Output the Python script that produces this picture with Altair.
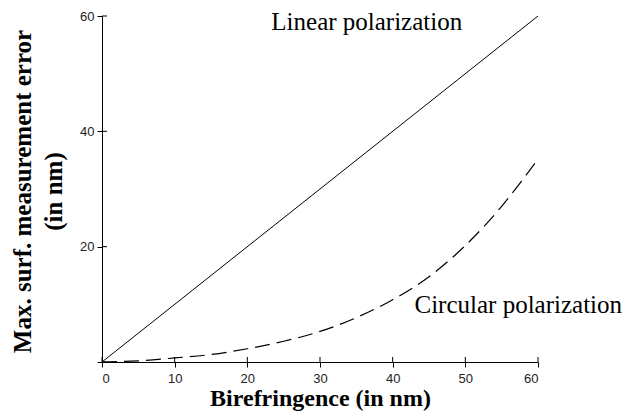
import altair as alt
import pandas as pd

# Data
lin_x = [0, 60]
lin_y = [0, 60]
circ_x = [0, 5, 10, 15, 20, 25, 30, 35, 40, 45, 50, 55, 60]
circ_y = [0, 0.2, 0.7, 1.3, 2.3, 3.6, 5.3, 7.7, 10.8, 14.8, 20.2, 27.0, 35.2]
x_ticks = [0, 10, 20, 30, 40, 50, 60]
y_ticks = [0, 20, 40, 60]
label_text = ["Linear polarization", "Circular polarization"]
label_x = [23.3, 43.0]
label_y = [57.5, 8.5]

lin_df = pd.DataFrame({"x": lin_x, "y": lin_y})
circ_df = pd.DataFrame({"x": circ_x, "y": circ_y})
xtick_df = pd.DataFrame({"t": x_ticks})
ytick_df = pd.DataFrame({"t": y_ticks})
lab_df = pd.DataFrame({"text": label_text, "x": label_x, "y": label_y})

xs = alt.Scale(domain=[0, 60], nice=False, zero=False)
ys = alt.Scale(domain=[0, 60], nice=False, zero=False)

LBL_FONT = "Liberation Sans Narrow, Liberation Sans, sans-serif"
TITLE_FONT = "Liberation Serif"

x_axis = alt.Axis(
    values=x_ticks, title="Birefringence (in nm)", grid=False,
    domainColor="black", domainWidth=1, tickColor="black", tickSize=5, tickWidth=1,
    labelFont=LBL_FONT, labelFontSize=13, labelColor="#222", labelPadding=5,
    titleFont=TITLE_FONT, titleFontSize=24, titleFontWeight="bold", titleColor="black",
    titleBaseline="alphabetic", titleY=43,
)
y_axis = alt.Axis(
    values=y_ticks, title=["Max. surf. measurement error", "(in nm)"], grid=False,
    labelExpr="datum.value == 0 ? '' : datum.label",
    domainColor="black", domainWidth=1, tickColor="black", tickSize=5, tickWidth=1,
    labelFont=LBL_FONT, labelFontSize=13, labelColor="#222", labelPadding=3,
    titleFont=TITLE_FONT, titleFontSize=25, titleFontWeight="bold", titleColor="black",
    titleBaseline="alphabetic", titleX=-72, titleY=175, titleAngle=270,
    titleAlign="center", titleLineHeight=31,
)

lin = alt.Chart(lin_df).mark_line(color="black", strokeWidth=1).encode(
    x=alt.X("x:Q", scale=xs, axis=x_axis),
    y=alt.Y("y:Q", scale=ys, axis=y_axis),
)
circ = alt.Chart(circ_df).mark_line(
    color="black", strokeWidth=1.2, strokeDash=[15, 7], interpolate="monotone"
).encode(x=alt.X("x:Q", scale=xs), y=alt.Y("y:Q", scale=ys))

# inward halves of the crossing tick marks
ytick_in = alt.Chart(ytick_df).mark_rule(color="black", strokeWidth=1).encode(
    y=alt.Y("t:Q", scale=ys), x=alt.value(0), x2=alt.value(5)
)
xtick_in = alt.Chart(xtick_df).mark_rule(color="black", strokeWidth=1).encode(
    x=alt.X("t:Q", scale=xs), y=alt.value(346), y2=alt.value(341)
)

labels = alt.Chart(lab_df).mark_text(
    font=TITLE_FONT, fontSize=25, align="left", baseline="alphabetic", color="black"
).encode(x=alt.X("x:Q", scale=xs), y=alt.Y("y:Q", scale=ys), text="text:N")

chart = alt.layer(lin, circ, ytick_in, xtick_in, labels).properties(
    width=436, height=346,
    autosize=alt.AutoSizeParams(type="none"),
    padding={"left": 94, "top": 8, "right": 88, "bottom": 49},
).configure(background="white", view=alt.ViewConfig(stroke=None, strokeWidth=0))

chart.save("out.html", embed_options={"renderer": "svg", "actions": False})
